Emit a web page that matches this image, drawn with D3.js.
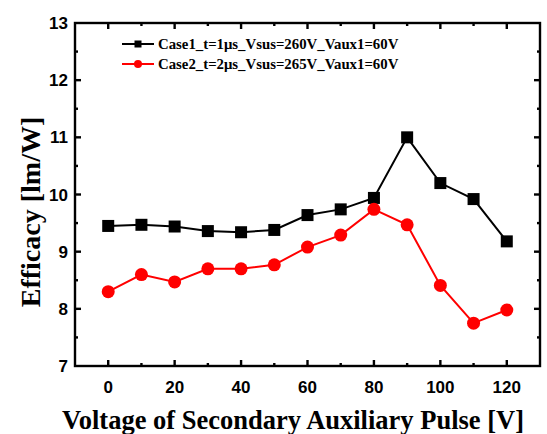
<!DOCTYPE html>
<html><head><meta charset="utf-8">
<script src="https://cdn.jsdelivr.net/npm/d3@7"></script>
<style>body{margin:0;background:#fff}</style>
</head><body>
<svg id="c" width="547" height="434"></svg>
<script>
const xValues = [0,10,20,30,40,50,60,70,80,90,100,110,120];
const case1 = [9.45,9.47,9.44,9.36,9.34,9.38,9.64,9.74,9.94,11.0,10.2,9.92,9.18];
const case2 = [8.30,8.60,8.47,8.70,8.70,8.77,9.08,9.29,9.74,9.47,8.41,7.75,7.98];
const seriesNames = ["Case1_t=1\u03bcs_Vsus=260V_Vaux1=60V","Case2_t=2\u03bcs_Vsus=265V_Vaux1=60V"];
const xTicks = [0,20,40,60,80,100,120];
const yTicks = [7,8,9,10,11,12,13];

const svg = d3.select("#c");
const L=75, R=540, T=23, B=366;
const x = d3.scaleLinear().domain([-10,130]).range([L,R]);
const y = d3.scaleLinear().domain([7,13]).range([B,T]);
const tickFont = "bold 17px 'Liberation Sans', Arial, sans-serif";

// frame
svg.append("rect").attr("x",L).attr("y",T).attr("width",R-L).attr("height",B-T)
  .attr("fill","none").attr("stroke","#000").attr("stroke-width",2.4);

const xMinor = d3.range(0,121,10);
const yMinor = d3.range(7,13.01,0.5);
const tk = svg.append("g").attr("stroke","#000").attr("stroke-width",2.4);
xMinor.forEach(v=>{
  const len = xTicks.includes(v)?6:3;
  tk.append("line").attr("x1",x(v)).attr("x2",x(v)).attr("y1",B).attr("y2",B-len);
  tk.append("line").attr("x1",x(v)).attr("x2",x(v)).attr("y1",T).attr("y2",T+len);
});
yMinor.forEach(v=>{
  const len = Number.isInteger(v)?6:3;
  if (v===7||v===13) return;
  tk.append("line").attr("x1",L).attr("x2",L+len).attr("y1",y(v)).attr("y2",y(v));
  tk.append("line").attr("x1",R).attr("x2",R-len).attr("y1",y(v)).attr("y2",y(v));
});

svg.append("g").selectAll("text").data(xTicks).join("text")
  .attr("x",d=>x(d)).attr("y",B+27).attr("text-anchor","middle")
  .style("font",tickFont).text(d=>d);
svg.append("g").selectAll("text").data(yTicks).join("text")
  .attr("x",L-7).attr("y",d=>y(d)+6).attr("text-anchor","end")
  .style("font",tickFont).text(d=>d);

// titles
svg.append("text").attr("transform","translate(40,212) rotate(-90)")
  .attr("text-anchor","middle")
  .style("font","bold 28px 'Liberation Serif', 'Times New Roman', serif")
  .text("Efficacy [lm/W]");
svg.append("text").attr("x",293).attr("y",429).attr("text-anchor","middle")
  .style("font","bold 26.5px 'Liberation Serif', 'Times New Roman', serif")
  .text("Voltage of Secondary Auxiliary Pulse [V]");

const line = d3.line().x((d,i)=>x(xValues[i])).y(d=>y(d));
svg.append("path").datum(case1).attr("d",line).attr("fill","none").attr("stroke","#000").attr("stroke-width",2);
svg.append("path").datum(case2).attr("d",line).attr("fill","none").attr("stroke","#ff0000").attr("stroke-width",2);

svg.append("g").selectAll("rect").data(case1).join("rect")
  .attr("x",(d,i)=>x(xValues[i])-6).attr("y",d=>y(d)-6).attr("width",12).attr("height",12)
  .attr("fill","#000");
svg.append("g").selectAll("circle").data(case2).join("circle")
  .attr("cx",(d,i)=>x(xValues[i])).attr("cy",d=>y(d)).attr("r",6.5)
  .attr("fill","#ff0000");

// legend
const lg = svg.append("g");
const legColors = ["#000","#ff0000"];
seriesNames.forEach((n,i)=>{
  const yy = 44 + i*20;
  lg.append("line").attr("x1",122).attr("x2",154).attr("y1",yy).attr("y2",yy)
    .attr("stroke",legColors[i]).attr("stroke-width",2);
  if(i===0) lg.append("rect").attr("x",134.5).attr("y",yy-3.5).attr("width",7).attr("height",7).attr("fill","#000");
  else lg.append("circle").attr("cx",138).attr("cy",yy).attr("r",4).attr("fill","#ff0000");
  lg.append("text").attr("x",158).attr("y",yy+5)
    .style("font","bold 14.8px 'Liberation Serif', 'Times New Roman', serif").text(n);
});
</script>
</body></html>
